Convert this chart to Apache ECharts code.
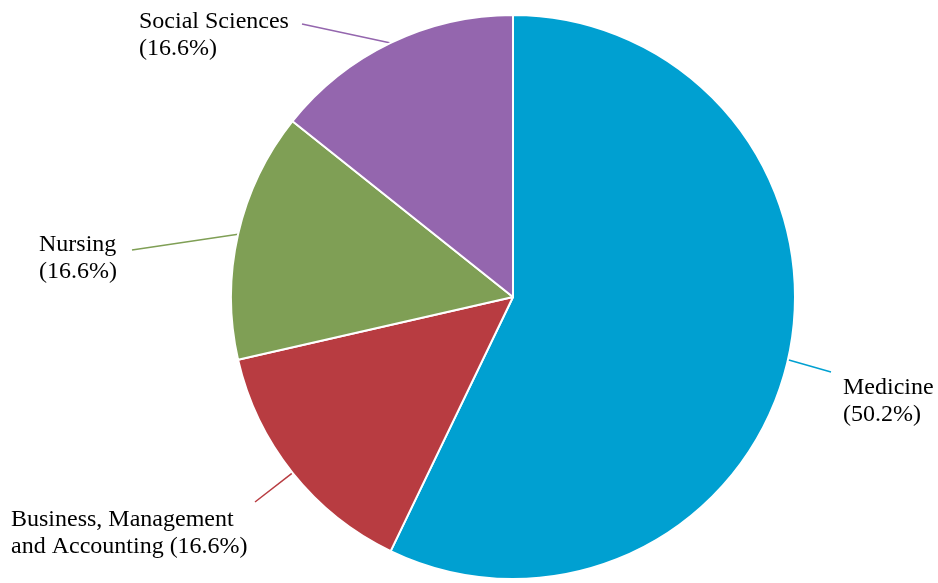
<!DOCTYPE html>
<html>
<head>
<meta charset="utf-8">
<script src="https://cdn.jsdelivr.net/npm/echarts@6/dist/echarts.min.js"></script>
<style>
  html, body { margin: 0; padding: 0; background: #fff; }
  #chart { width: 938px; height: 583px; }
</style>
</head>
<body>
<div id="chart"></div>
<script>
// slices as drawn (relative sizes), clockwise from 12 o'clock
const categories = ['Medicine', 'Business, Management\nand Accounting', 'Nursing', 'Social Sciences'];
const values = [4, 1, 1, 1];
// percentages printed in the labels
const pctLabels = ['50.2%', '16.6%', '16.6%', '16.6%'];
const colors = ['#00a0d1', '#b83c41', '#7f9f55', '#9466ae'];

// label block positions (top-left) and where each leader line stops
const labelPos = [[843, 374], [11, 506], [39, 231], [139, 8]];
const lineEnds = [[831, 372], [255, 502], [132, 250], [302, 24]];

const chart = echarts.init(document.getElementById('chart'));

const data = categories.map((name, i) => ({
  name: name,
  value: values[i],
  itemStyle: { color: colors[i] },
  labelLine: { lineStyle: { color: colors[i] } },
  label: {
    formatter: i === 1 ? name + ' (' + pctLabels[i] + ')' : name + '\n(' + pctLabels[i] + ')'
  }
}));

chart.setOption({
  animation: false,
  series: [{
    type: 'pie',
    center: [513, 297],
    radius: 282,
    startAngle: 90,
    clockwise: true,
    data: data,
    itemStyle: { borderColor: '#fff', borderWidth: 2 },
    label: {
      show: true,
      position: 'outside',
      fontFamily: 'Liberation Serif',
      fontSize: 24,
      lineHeight: 27,
      color: '#000',
      align: 'left',
      overflow: 'none'
    },
    labelLine: { show: true, length: 20, length2: 20, lineStyle: { width: 1.5 } },
    labelLayout: function (p) {
      const i = p.dataIndex;
      const pts = p.labelLinePoints;
      const out = { x: labelPos[i][0], y: labelPos[i][1], align: 'left', verticalAlign: 'top' };
      if (pts && pts.length) {
        out.labelLinePoints = [pts[0], lineEnds[i]];
      }
      return out;
    }
  }]
});
</script>
</body>
</html>
